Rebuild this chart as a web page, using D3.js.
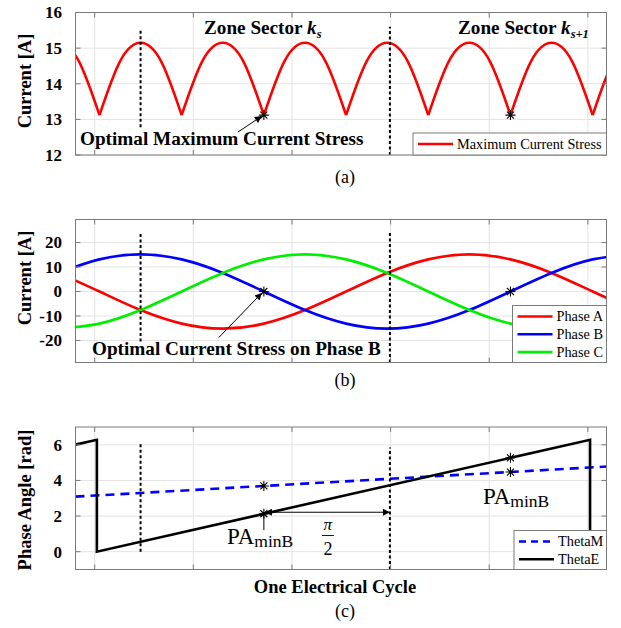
<!DOCTYPE html>
<html>
<head>
<meta charset="utf-8">
<script src="https://cdn.jsdelivr.net/npm/d3@7"></script>
<style>
  body { margin: 0; background: #fff; }
  text { font-family: "Liberation Serif", "Times New Roman", serif; }
</style>
</head>
<body>
<div id="chart"></div>
<script>
const width = 621;
const height = 628;
const plotLeft = 75.5;
const plotRight = 606.5;

// x axis: electrical angle in degrees along the plotted window
const xDomain = [0, 387.6];
const xGrid = [14, 86, 158, 230, 302, 374];

// (a) maximum current stress, sampled every 15 deg (valley -> peak -> valley)
const maxStressX = [-42.5, -27.5, -12.5, 2.5, 17.5, 32.5, 47.5, 62.5, 77.5, 92.5, 107.5, 122.5, 137.5, 152.5, 167.5, 182.5, 197.5, 212.5, 227.5, 242.5, 257.5, 272.5, 287.5, 302.5, 317.5, 332.5, 347.5, 362.5, 377.5, 392.5, 407.5, 422.5, 437.5];
const maxStress = [13.12, 14.63, 15.15, 14.63, 13.12, 14.63, 15.15, 14.63, 13.12, 14.63, 15.15, 14.63, 13.12, 14.63, 15.15, 14.63, 13.12, 14.63, 15.15, 14.63, 13.12, 14.63, 15.15, 14.63, 13.12, 14.63, 15.15, 14.63, 13.12, 14.63, 15.15, 14.63, 13.12];

// (b) phase currents, sampled every 30 deg
const phaseX = [-12.5, 17.5, 47.5, 77.5, 107.5, 137.5, 167.5, 197.5, 227.5, 257.5, 287.5, 317.5, 347.5, 377.5, 407.5];
const phaseA = [7.58, 0, -7.58, -13.12, -15.15, -13.12, -7.58, 0, 7.58, 13.12, 15.15, 13.12, 7.58, 0, -7.58];
const phaseB = [7.58, 13.12, 15.15, 13.12, 7.58, 0, -7.58, -13.12, -15.15, -13.12, -7.58, 0, 7.58, 13.12, 15.15];
const phaseC = [-15.15, -13.12, -7.58, 0, 7.58, 13.12, 15.15, 13.12, 7.58, 0, -7.58, -13.12, -15.15, -13.12, -7.58];

// (c) phase angles [rad]
const thetaEX = [0, 15.6, 15.6, 375.6, 375.6, 387.6];
const thetaE = [6.01, 6.28, 0, 6.28, 0, 0.21];
const thetaMX = [0, 387.6];
const thetaM = [3.09, 4.78];

// optimal points (phase B zero crossings)
const starX = [137.5, 317.5];
const starMax = [13.12, 13.12];
const starPhaseB = [0, 0];
const starThetaE = [2.13, 5.27];
const starThetaM = [3.69, 4.47];

// sector boundaries
const sectorX = [47.5, 229.5];

const ticksA = [12, 13, 14, 15, 16];
const ticksB = [-20, -10, 0, 10, 20];
const ticksC = [0, 2, 4, 6];

const frameColor = "#7a7a7a";
const gridColor = "#e3e3e3";
const serif = '"Liberation Serif", "Times New Roman", serif';

const x = d3.scaleLinear().domain(xDomain).range([plotLeft, plotRight]);

const svg = d3
  .select("#chart")
  .append("svg")
  .attr("width", width)
  .attr("height", height)
  .attr("font-family", serif);

const defs = svg.append("defs");
defs
  .append("marker")
  .attr("id", "head")
  .attr("viewBox", "0 0 10 10")
  .attr("refX", 10)
  .attr("refY", 5)
  .attr("markerUnits", "userSpaceOnUse")
  .attr("markerWidth", 10)
  .attr("markerHeight", 7)
  .attr("orient", "auto-start-reverse")
  .append("path")
  .attr("d", "M0,0 L10,5 L0,10 z")
  .attr("fill", "#000");

const makePanel = (id, top, bottom, yDomain, yTicks, yLabel, labelY) => {
  const y = d3.scaleLinear().domain(yDomain).range([bottom, top]);
  const g = svg.append("g").attr("class", id);

  defs
    .append("clipPath")
    .attr("id", `clip-${id}`)
    .append("rect")
    .attr("x", plotLeft)
    .attr("y", top)
    .attr("width", plotRight - plotLeft)
    .attr("height", bottom - top);

  const grid = g.append("g");
  grid
    .selectAll(".xg")
    .data(xGrid)
    .join("line")
    .attr("x1", (d) => x(d))
    .attr("x2", (d) => x(d))
    .attr("y1", top)
    .attr("y2", bottom)
    .attr("stroke", gridColor);
  grid
    .selectAll(".yg")
    .data(yTicks)
    .join("line")
    .attr("x1", plotLeft)
    .attr("x2", plotRight)
    .attr("y1", (d) => y(d))
    .attr("y2", (d) => y(d))
    .attr("stroke", gridColor);

  const plot = g.append("g").attr("clip-path", `url(#clip-${id})`);
  const anno = g.append("g");
  const frame = g.append("g");

  frame
    .append("rect")
    .attr("x", plotLeft)
    .attr("y", top)
    .attr("width", plotRight - plotLeft)
    .attr("height", bottom - top)
    .attr("fill", "none")
    .attr("stroke", frameColor);

  // inward ticks on all four sides
  yTicks.forEach((t) => {
    frame.append("line").attr("x1", plotLeft).attr("x2", plotLeft + 5)
      .attr("y1", y(t)).attr("y2", y(t)).attr("stroke", frameColor);
    frame.append("line").attr("x1", plotRight - 5).attr("x2", plotRight)
      .attr("y1", y(t)).attr("y2", y(t)).attr("stroke", frameColor);
  });
  xGrid.forEach((t) => {
    frame.append("line").attr("x1", x(t)).attr("x2", x(t))
      .attr("y1", top).attr("y2", top + 5).attr("stroke", frameColor);
    frame.append("line").attr("x1", x(t)).attr("x2", x(t))
      .attr("y1", bottom - 5).attr("y2", bottom).attr("stroke", frameColor);
  });

  g.selectAll(".tick-label")
    .data(yTicks)
    .join("text")
    .attr("class", "tick-label")
    .attr("x", 62)
    .attr("y", (d) => y(d))
    .attr("dy", "0.35em")
    .attr("text-anchor", "end")
    .attr("font-size", 17)
    .attr("font-weight", "bold")
    .text((d) => d);

  g.append("text")
    .attr("transform", `translate(31,${labelY}) rotate(-90)`)
    .attr("text-anchor", "middle")
    .attr("font-size", 18.5)
    .attr("font-weight", "bold")
    .text(yLabel);

  return { y, plot, anno, frame, top, bottom };
};

const star = (sel, px, py) => {
  const r = 5;
  sel
    .append("path")
    .attr(
      "d",
      `M${px - r},${py}H${px + r}M${px},${py - r}V${py + r}` +
        `M${px - r * 0.7},${py - r * 0.7}L${px + r * 0.7},${py + r * 0.7}` +
        `M${px - r * 0.7},${py + r * 0.7}L${px + r * 0.7},${py - r * 0.7}`
    )
    .attr("stroke", "#000")
    .attr("stroke-width", 1.1)
    .attr("fill", "none");
};

const sectorLines = (panel, spans) => {
  panel.anno
    .selectAll(".sector")
    .data(spans)
    .join("line")
    .attr("x1", (d) => x(d.x))
    .attr("x2", (d) => x(d.x))
    .attr("y1", (d) => panel.y(d.y0))
    .attr("y2", (d) => panel.y(d.y1))
    .attr("stroke", "#000")
    .attr("stroke-width", 2)
    .attr("stroke-dasharray", "3,2.5");
};

const legend = (panel, x0, y0, w, h, items) => {
  const lg = panel.frame.append("g");
  lg.append("rect")
    .attr("x", x0)
    .attr("y", y0)
    .attr("width", w)
    .attr("height", h)
    .attr("fill", "#fff")
    .attr("stroke", frameColor);
  items.forEach((it, i) => {
    const cy = y0 + 11 + i * 17.8;
    lg.append("line")
      .attr("x1", x0 + 5)
      .attr("x2", x0 + 40)
      .attr("y1", cy)
      .attr("y2", cy)
      .attr("stroke", it.color)
      .attr("stroke-width", 2.6)
      .attr("stroke-dasharray", it.dash || null);
    lg.append("text")
      .attr("x", x0 + 44)
      .attr("y", cy)
      .attr("dy", "0.33em")
      .attr("font-size", 14.3)
      .text(it.name);
  });
};

const caption = (label, yPos) =>
  svg
    .append("text")
    .attr("x", 345)
    .attr("y", yPos)
    .attr("text-anchor", "middle")
    .attr("font-size", 18)
    .text(label);

const boldText = (sel, px, py, str) =>
  sel
    .append("text")
    .attr("x", px)
    .attr("y", py)
    .attr("font-size", 19.2)
    .attr("font-weight", "bold")
    .text(str);

// ---------------- (a) ----------------
const pa = makePanel("pa", 12.5, 155, [12, 16], ticksA, "Current [A]", 81);
const lineA = d3
  .line()
  .x((d) => x(d[0]))
  .y((d) => pa.y(d[1]))
  .curve(d3.curveNatural);
const arches = d3.range(0, maxStressX.length - 1, 4).map((i) =>
  d3.range(i, i + 5).map((j) => [maxStressX[j], maxStress[j]])
);
pa.plot
  .selectAll(".arch")
  .data(arches)
  .join("path")
  .attr("d", lineA)
  .attr("fill", "none")
  .attr("stroke", "#ff0000")
  .attr("stroke-width", 2.6);

starX.forEach((sx, i) => star(pa.anno, x(sx), pa.y(starMax[i])));
sectorLines(pa, [
  { x: sectorX[0], y0: 12.78, y1: 15.55 },
  { x: sectorX[1], y0: 12, y1: 15.6 },
]);

const zone1 = boldText(pa.anno, 204, 33.5, "Zone Sector ");
zone1.append("tspan").attr("font-style", "italic").text("k");
zone1.append("tspan").attr("font-style", "italic").attr("font-size", 12.5).attr("dy", 4).text("s");
const zone2 = boldText(pa.anno, 458, 33.5, "Zone Sector ");
zone2.append("tspan").attr("font-style", "italic").text("k");
zone2.append("tspan").attr("font-style", "italic").attr("font-size", 12.5).attr("dy", 4).text("s+1");

boldText(pa.anno, 80, 145, "Optimal Maximum Current Stress");
pa.anno
  .append("line")
  .attr("x1", x(starX[0]) - 26)
  .attr("y1", pa.y(starMax[0]) + 17)
  .attr("x2", x(starX[0]) - 2)
  .attr("y2", pa.y(starMax[0]) + 1)
  .attr("stroke", "#000")
  .attr("stroke-width", 1)
  .attr("marker-end", "url(#head)");

legend(pa, 413, 133, plotRight - 413, 155 - 133, [
  { name: "Maximum Current Stress", color: "#ff0000" },
]);
caption("(a)", 183);

// ---------------- (b) ----------------
const pb = makePanel("pb", 219.5, 362.5, [-29, 29.4], ticksB, "Current [A]", 278);
const lineB = d3
  .line()
  .x((d) => x(d[0]))
  .y((d) => pb.y(d[1]))
  .curve(d3.curveNatural);
const phases = [
  { name: "Phase A", color: "#ff0000", values: phaseA },
  { name: "Phase B", color: "#0000ff", values: phaseB },
  { name: "Phase C", color: "#00ee00", values: phaseC },
];
pb.plot
  .selectAll(".phase")
  .data(phases)
  .join("path")
  .attr("d", (d) => lineB(phaseX.map((px, i) => [px, d.values[i]])))
  .attr("fill", "none")
  .attr("stroke", (d) => d.color)
  .attr("stroke-width", 2.6);

starX.forEach((sx, i) => star(pb.anno, x(sx), pb.y(starPhaseB[i])));
sectorLines(pb, [
  { x: sectorX[0], y0: -20.4, y1: 24.4 },
  { x: sectorX[1], y0: -29, y1: 23.9 },
]);

boldText(pb.anno, 92, 355, "Optimal Current Stress on Phase B");
pb.anno
  .append("line")
  .attr("x1", x(starX[0]) - 45)
  .attr("y1", pb.y(starPhaseB[0]) + 46)
  .attr("x2", x(starX[0]) - 2)
  .attr("y2", pb.y(starPhaseB[0]) + 1.5)
  .attr("stroke", "#000")
  .attr("stroke-width", 1)
  .attr("marker-end", "url(#head)");

legend(pb, 512.5, 305.5, plotRight - 512.5, 362.5 - 305.5, phases);
caption("(b)", 386);

// ---------------- (c) ----------------
const pc = makePanel("pc", 427, 569.5, [-1, 7], ticksC, "Phase Angle [rad]", 500);
const lineC = d3
  .line()
  .x((d) => x(d[0]))
  .y((d) => pc.y(d[1]));
pc.plot
  .append("path")
  .attr("d", lineC(thetaMX.map((px, i) => [px, thetaM[i]])))
  .attr("fill", "none")
  .attr("stroke", "#0000ff")
  .attr("stroke-width", 2.6)
  .attr("stroke-dasharray", "9,6");
pc.plot
  .append("path")
  .attr("d", lineC(thetaEX.map((px, i) => [px, thetaE[i]])))
  .attr("fill", "none")
  .attr("stroke", "#000")
  .attr("stroke-width", 2.6);

starX.forEach((sx, i) => {
  star(pc.anno, x(sx), pc.y(starThetaE[i]));
  star(pc.anno, x(sx), pc.y(starThetaM[i]));
});
sectorLines(pc, [
  { x: sectorX[0], y0: 0, y1: 6.05 },
  { x: sectorX[1], y0: -1, y1: 5.85 },
]);

// pi/2 span between optimal point and sector boundary
const arrowY = pc.y(starThetaE[0]) - 1.5;
pc.anno
  .append("line")
  .attr("x1", x(starX[0]) + 1)
  .attr("x2", x(sectorX[1]))
  .attr("y1", arrowY)
  .attr("y2", arrowY)
  .attr("stroke", "#000")
  .attr("stroke-width", 1)
  .attr("marker-start", "url(#head)")
  .attr("marker-end", "url(#head)");
pc.anno
  .append("line")
  .attr("x1", x(starX[0]))
  .attr("x2", x(starX[0]))
  .attr("y1", pc.y(starThetaE[0]))
  .attr("y2", 530)
  .attr("stroke", "#000")
  .attr("stroke-width", 1);

const midX = (x(starX[0]) + x(sectorX[1])) / 2 + 1;
pc.anno
  .append("text")
  .attr("x", midX)
  .attr("y", 530)
  .attr("text-anchor", "middle")
  .attr("font-size", 17)
  .attr("font-style", "italic")
  .text("π");
pc.anno
  .append("line")
  .attr("x1", midX - 6)
  .attr("x2", midX + 6)
  .attr("y1", 535.5)
  .attr("y2", 535.5)
  .attr("stroke", "#000")
  .attr("stroke-width", 0.9);
pc.anno
  .append("text")
  .attr("x", midX)
  .attr("y", 555)
  .attr("text-anchor", "middle")
  .attr("font-size", 18)
  .text("2");

const paLabel = (px, py) => {
  const t = pc.anno
    .append("text")
    .attr("x", px)
    .attr("y", py)
    .attr("font-size", 23)
    .text("PA");
  t.append("tspan").attr("font-size", 17.5).attr("dy", 3).text("minB");
};
paLabel(227, 544);
paLabel(483, 504);

legend(pc, 514, 530.5, plotRight - 514, 569.5 - 530.5, [
  { name: "ThetaM", color: "#0000ff", dash: "7,5" },
  { name: "ThetaE", color: "#000" },
]);

svg
  .append("text")
  .attr("x", 335)
  .attr("y", 593)
  .attr("text-anchor", "middle")
  .attr("font-size", 18.5)
  .attr("font-weight", "bold")
  .text("One Electrical Cycle");
caption("(c)", 617);
</script>
</body>
</html>
